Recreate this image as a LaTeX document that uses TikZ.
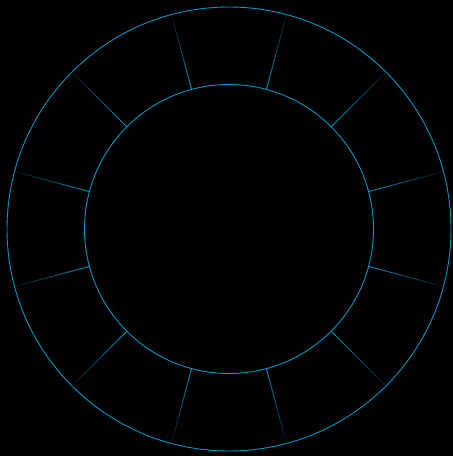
\documentclass[tikz,border=0pt]{standalone}
\definecolor{ringblue}{RGB}{0,150,200}
\begin{document}
\begin{tikzpicture}[x=1pt,y=1pt,ring/.style={draw=ringblue, line width=0.9pt},spoke/.style={line width=0.9pt}]
\fill[black] (0,0) rectangle (453,456);
\useasboundingbox (0,0) rectangle (453,456);
\coordinate (O) at (229,227);
\draw[ring] (O) circle (222); \draw[ring] (O) circle (144.5);
\foreach \a in {15,45,...,345}
  \foreach \i in {0,...,19}{
    \pgfmathsetmacro{\fade}{100-4.5*\i}
    \draw[spoke, ringblue!\fade!black] ([shift={(\a:144.5+3.85*\i)}]O) -- ([shift={(\a:144.5+3.85*\i+3.95)}]O);
  }
\end{tikzpicture}
\end{document}
